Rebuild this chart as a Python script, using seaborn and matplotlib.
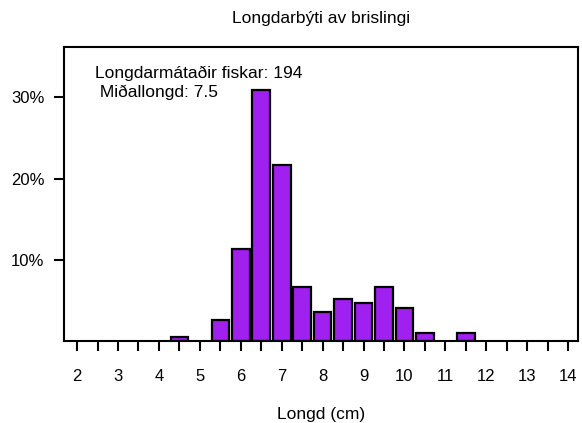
import numpy as np
import pandas as pd
import matplotlib
matplotlib.use("Agg")
import matplotlib.pyplot as plt
import seaborn as sns

# length classes (cm) and number of fish in each
lengths = [4.5, 5.5, 6.0, 6.5, 7.0, 7.5, 8.0, 8.5, 9.0, 9.5, 10.0, 10.5, 11.5]
counts = [1, 5, 22, 60, 42, 13, 7, 10, 9, 13, 8, 2, 2]
n_fish = 194
mean_length = 7.5

x_major = list(range(2, 15))
y_ticks = [10, 20, 30]
y_labels = ["10%", "20%", "30%"]

df = pd.DataFrame({"lengd": lengths, "pct": np.array(counts) / n_fish * 100})

sns.set_style("white")
plt.rcParams["font.family"] = ["Liberation Sans", "DejaVu Sans"]
plt.rcParams.update({"text.color": "black", "axes.labelcolor": "black",
                     "xtick.color": "black", "ytick.color": "black"})

fig = plt.figure(figsize=(5.82, 4.23), dpi=100)
ax = fig.add_axes([64 / 582, 82 / 423, 514 / 582, 294 / 423])

sns.barplot(data=df, x="lengd", y="pct", native_scale=True, width=0.86,
            color="#A020F0", saturation=1, edgecolor="black", linewidth=1.6, ax=ax)

ax.set_xlim(1.68, 14.24)
ax.set_ylim(0, 36.2)

xt = np.arange(2, 14.01, 0.5)
ax.set_xticks(xt)
ax.set_xticklabels([str(int(v)) if v in x_major else "" for v in xt])
ax.set_yticks(y_ticks)
ax.set_yticklabels(y_labels)
ax.tick_params(axis="both", direction="out", length=7, width=1.5, colors="black",
               labelsize=12, bottom=True, left=True)
ax.tick_params(axis="x", pad=13)
ax.tick_params(axis="y", pad=7)

for s in ax.spines.values():
    s.set_visible(True)
    s.set_color("black")
    s.set_linewidth(1.5)

ax.set_title("Longdarbýti av brislingi", fontsize=12.5, pad=17, color="black")
ax.set_xlabel("Longd (cm)", fontsize=12.5, labelpad=17, color="black")
ax.set_ylabel("")

ax.text(0.06, 0.935, f"Longdarmátaðir fiskar: {n_fish}\n Miðallongd: {mean_length}",
        transform=ax.transAxes, fontsize=12.5, va="top", ha="left", linespacing=1.3,
        color="black")

fig.savefig("out.png", dpi=100)
